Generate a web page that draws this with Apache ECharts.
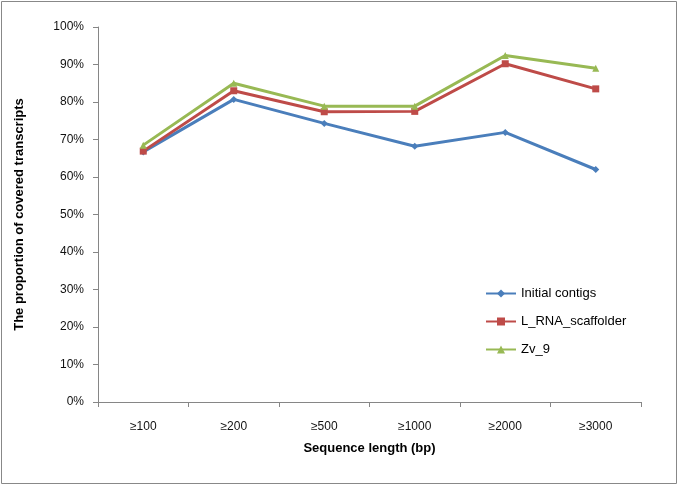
<!DOCTYPE html>
<html><head><meta charset="utf-8">
<script src="https://cdn.jsdelivr.net/npm/echarts@6/dist/echarts.min.js"></script>
<style>html,body{margin:0;padding:0;background:#fff}#c{width:679px;height:486px}</style>
</head><body><div id="c"></div>
<script>
const categories = ['≥100','≥200','≥500','≥1000','≥2000','≥3000'];
const initialContigs = [66.7, 80.7, 74.3, 68.2, 71.9, 62.0];
const lRnaScaffolder = [66.9, 83.0, 77.4, 77.5, 90.2, 83.5];
const zv9 = [68.5, 85.0, 78.9, 78.9, 92.4, 89.0];
const yTicks = [0,10,20,30,40,50,60,70,80,90,100];

const chart = echarts.init(document.getElementById('c'));
const font = '"Liberation Sans", Arial, sans-serif';
const axisCol = '#868686';
chart.setOption({
  animation: false,
  textStyle: {fontFamily: font},
  graphic: [{type:'rect', shape:{x:1.5,y:1.5,width:675,height:482}, style:{fill:'none', stroke:'#888', lineWidth:1}}],
  grid: {left: 98, right: 38, top: 27, bottom: 84},
  legend: {
    orient: 'vertical', left: 480, top: 282, itemGap: 15, itemWidth: 30, itemHeight: 10,
    textStyle: {fontSize: 13, color: '#000', fontFamily: font},
    data: ['Initial contigs','L_RNA_scaffolder','Zv_9']
  },
  xAxis: {
    type: 'category', data: categories, boundaryGap: true,
    name: 'Sequence length (bp)', nameLocation: 'middle', nameGap: 40,
    nameTextStyle: {fontSize: 13, fontWeight: 'bold', color: '#000', fontFamily: font},
    axisLine: {lineStyle: {color: axisCol}},
    axisTick: {show: true, length: 5, lineStyle: {color: axisCol}, alignWithLabel: false},
    axisLabel: {fontSize: 12, color: '#111', margin: 19, fontFamily: font}
  },
  yAxis: {
    type: 'value', min: yTicks[0], max: yTicks[yTicks.length-1], interval: 10,
    name: 'The proportion of covered transcripts', nameLocation: 'middle', nameGap: 72, nameRotate: 90,
    nameTextStyle: {fontSize: 13, fontWeight: 'bold', color: '#000', fontFamily: font},
    axisLine: {show: true, lineStyle: {color: axisCol}},
    axisTick: {show: true, length: 5, lineStyle: {color: axisCol}},
    splitLine: {show: false},
    axisLabel: {fontSize: 12, color: '#111', margin: 14, formatter: '{value}%', fontFamily: font}
  },
  series: [
    {name:'Initial contigs', type:'line', data: initialContigs, symbol:'diamond', symbolSize:7,
     lineStyle:{width:3, color:'#4a7ebb'}, itemStyle:{color:'#4a7ebb'}},
    {name:'L_RNA_scaffolder', type:'line', data: lRnaScaffolder, symbol:'rect', symbolSize:7,
     lineStyle:{width:3, color:'#be4b48'}, itemStyle:{color:'#be4b48'}},
    {name:'Zv_9', type:'line', data: zv9, symbol:'triangle', symbolSize:7,
     lineStyle:{width:3, color:'#98b954'}, itemStyle:{color:'#98b954'}}
  ]
});
</script></body></html>
